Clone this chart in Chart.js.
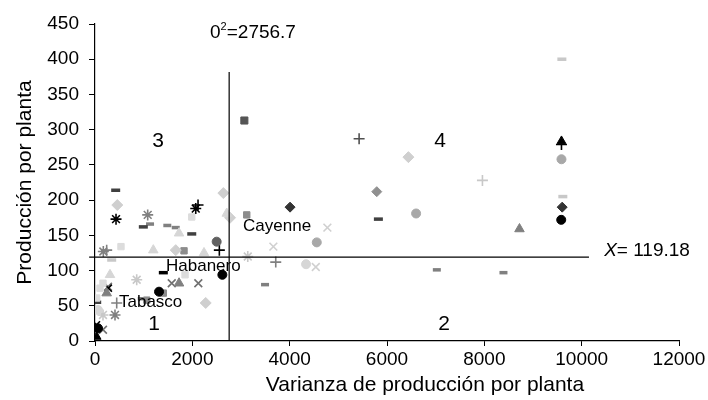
<!DOCTYPE html>
<html>
<head>
<meta charset="utf-8">
<script src="https://cdn.jsdelivr.net/npm/chart.js@4"></script>
<style>
  html, body { margin: 0; padding: 0; background: #fff; }
  #wrap { width: 708px; height: 400px; }
</style>
</head>
<body>
<div id="wrap"><canvas id="chart"></canvas></div>
<script>
// Variance (x) vs production per plant (y), grouped by marker
const blackCircles = [[1316, 70], [2617, 94], [62, 18], [9580, 172]];
const darkCircles = [[2500, 141]];
const grayCircles = [[4557, 140], [6598, 181], [9585, 258]];
const lightCircles = [[4337, 109], [62, 44]];

const blackTriangles = [[9585, 284], [35, 6]];
const grayTriangles = [[1727, 82], [8722, 159], [240, 68]];
const lightTriangles = [[1727, 153], [1198, 129], [2240, 125], [2707, 181], [308, 94]];

const darkDiamonds = [[4008, 190], [9600, 190]];
const grayDiamonds = [[5790, 212]];
const lightDiamonds = [[2637, 210], [2775, 175], [6440, 261], [458, 193], [1659, 129], [2275, 54]];

const darkSquares = [[3069, 313]];
const graySquares = [[3118, 179], [1829, 128], [1404, 68], [1063, 58]];
const lightSquares = [[1988, 176], [534, 134], [1850, 94], [164, 82], [103, 75], [35, 61]];

const blackDashes = [[1404, 97]];
const darkDashes = [[425, 214], [993, 162], [1988, 152], [5823, 173], [35, 55]];
const grayDashes = [[1131, 166], [1486, 164], [1659, 161], [7024, 101], [8393, 97], [3494, 80], [960, 60]];
const lightDashes = [[9593, 400], [9613, 205], [343, 115]];

const blackStars = [[432, 173], [2070, 188]];
const grayStars = [[1083, 179], [171, 127], [411, 37]];
const lightStars = [[857, 87], [3139, 120], [164, 37]];

const blackPlus = [[2117, 193], [2555, 129], [9585, 279]];
const darkPlus = [[5427, 287]];
const grayPlus = [[3714, 112], [446, 54], [240, 129]];
const lightPlus = [[7961, 228]];

const blackCrosses = [[30, 23], [274, 75]];
const grayCrosses = [[1577, 82], [2123, 82], [267, 77], [164, 16]];
const lightCrosses = [[4775, 161], [3665, 134], [4537, 105]];

// Reference lines: mean variance and mean production
const meanVariance = 2756.7;
const meanProduction = 119.18;

const xTicks = [0, 2000, 4000, 6000, 8000, 10000, 12000];
const yTicks = [0, 50, 100, 150, 200, 250, 300, 350, 400, 450];

const BLACK = '#000000', DARK = '#404040', GRAY = '#808080', LIGHT = '#c8c8c8';
const FONT = '"Liberation Sans", Arial, sans-serif';

function series(label, pairs, style, color, radius) {
    const thin = style === 'cross' || style === 'crossRot' || style === 'star';
    return {
        label: label,
        data: pairs.map(p => ({ x: p[0], y: p[1] })),
        pointStyle: style,
        pointRadius: radius,
        pointBackgroundColor: color,
        pointBorderColor: color,
        pointBorderWidth: style === 'line' ? 3.5 : (thin ? 1.6 : 1),
        showLine: false
    };
}

function refLine(pairs) {
    return {
        type: 'line',
        data: pairs.map(p => ({ x: p[0], y: p[1] })),
        borderColor: '#000',
        borderWidth: 1.2,
        pointRadius: 0,
        showLine: true,
        clip: false,
        order: -1
    };
}

const datasets = [
    series('blackCircles', blackCircles, 'circle', BLACK, 4.5),
    series('darkCircles', darkCircles, 'circle', '#606060', 4.5),
    series('grayCircles', grayCircles, 'circle', '#a8a8a8', 4.5),
    series('lightCircles', lightCircles, 'circle', '#d6d6d6', 4.5),
    series('blackTriangles', blackTriangles, 'triangle', BLACK, 5),
    series('grayTriangles', grayTriangles, 'triangle', GRAY, 5.5),
    series('lightTriangles', lightTriangles, 'triangle', '#d6d6d6', 5.5),
    series('darkDiamonds', darkDiamonds, 'rectRot', '#333333', 5),
    series('grayDiamonds', grayDiamonds, 'rectRot', '#909090', 5),
    series('lightDiamonds', lightDiamonds, 'rectRot', '#cfcfcf', 5.5),
    series('darkSquares', darkSquares, 'rect', '#555555', 5),
    series('graySquares', graySquares, 'rect', '#8c8c8c', 4.5),
    series('lightSquares', lightSquares, 'rect', '#dcdcdc', 4.5),
    series('blackDashes', blackDashes, 'line', BLACK, 4.5),
    series('darkDashes', darkDashes, 'line', DARK, 4.5),
    series('grayDashes', grayDashes, 'line', GRAY, 4),
    series('lightDashes', lightDashes, 'line', LIGHT, 4.5),
    series('blackStars', blackStars, 'star', BLACK, 5.5),
    series('grayStars', grayStars, 'star', GRAY, 5.5),
    series('lightStars', lightStars, 'star', LIGHT, 5.5),
    series('blackPlus', blackPlus, 'cross', BLACK, 5.5),
    series('darkPlus', darkPlus, 'cross', '#505050', 5.5),
    series('grayPlus', grayPlus, 'cross', GRAY, 5.5),
    series('lightPlus', lightPlus, 'cross', LIGHT, 5.5),
    series('blackCrosses', blackCrosses, 'crossRot', BLACK, 5),
    series('grayCrosses', grayCrosses, 'crossRot', '#707070', 5.5),
    series('lightCrosses', lightCrosses, 'crossRot', '#d0d0d0', 5.5),
    refLine([[meanVariance, 0], [meanVariance, 382]]),
    refLine([[-120, meanProduction], [10150, meanProduction]])
];

// Text drawn in data coordinates: quadrant numbers, cultivar names, means
const notes = [
    { text: '3', x: 1295, y: 284, size: 21 },
    { text: '4', x: 7091, y: 284, size: 21 },
    { text: '1', x: 1213, y: 24, size: 21 },
    { text: '2', x: 7174, y: 24, size: 21 },
    { text: 'Cayenne', x: 3042, y: 163, size: 17, left: true },
    { text: 'Habanero', x: 1459, y: 106, size: 17, left: true },
    { text: 'Tabasco', x: 493, y: 55, size: 17, left: true }
];

const notesPlugin = {
    id: 'notes',
    afterDatasetsDraw(chart) {
        const ctx = chart.ctx;
        const xs = chart.scales.x, ys = chart.scales.y;
        ctx.save();
        ctx.fillStyle = '#000';
        ctx.textBaseline = 'middle';
        notes.forEach(n => {
            ctx.font = n.size + 'px ' + FONT;
            ctx.textAlign = n.left ? 'left' : 'center';
            ctx.fillText(n.text, xs.getPixelForValue(n.x), ys.getPixelForValue(n.y));
        });

        // sigma squared label above the vertical line
        ctx.textAlign = 'left';
        let px = xs.getPixelForValue(2364), py = ys.getPixelForValue(438);
        ctx.font = '19px ' + FONT;
        ctx.fillText('0', px, py);
        px += ctx.measureText('0').width;
        ctx.font = '11px ' + FONT;
        ctx.fillText('2', px, py - 5);
        px += ctx.measureText('2').width;
        ctx.font = '19px ' + FONT;
        ctx.fillText('=' + meanVariance, px, py);

        // mean production label right of the horizontal line
        px = xs.getPixelForValue(10462);
        py = ys.getPixelForValue(meanProduction + 9);
        ctx.font = 'italic 19px ' + FONT;
        ctx.fillText('X', px, py);
        px += ctx.measureText('X').width;
        ctx.font = '19px ' + FONT;
        ctx.fillText('= ' + meanProduction, px, py);

        // x axis title, set a little right of the plot centre
        ctx.font = '21px ' + FONT;
        ctx.textAlign = 'center';
        ctx.fillText('Varianza de producción por planta', xs.getPixelForValue(6780), xs.bottom - 15);
        ctx.restore();
    }
};

const tickFont = { family: FONT, size: 19 };
const titleFont = { family: FONT, size: 21 };

new Chart(document.getElementById('chart').getContext('2d'), {
    type: 'scatter',
    data: { datasets: datasets },
    options: {
        responsive: true,
        maintainAspectRatio: false,
        animation: false,
        layout: { padding: { top: 24, right: 29, left: 0, bottom: 0 } },
        plugins: {
            legend: { display: false },
            tooltip: { enabled: false }
        },
        scales: {
            x: {
                type: 'linear',
                min: 0,
                max: 12000,
                afterBuildTicks: scale => { scale.ticks = xTicks.map(v => ({ value: v })); },
                afterFit: scale => { scale.height = 59; },
                border: { color: '#000', width: 1.2 },
                grid: { drawOnChartArea: false, drawTicks: true, tickLength: 5, color: '#000' },
                ticks: { color: '#000', font: tickFont, padding: 2, maxRotation: 0, callback: v => String(v) }
            },
            y: {
                type: 'linear',
                min: 0,
                max: 450,
                afterBuildTicks: scale => { scale.ticks = yTicks.map(v => ({ value: v })); },
                afterFit: scale => { scale.width = 95; },
                border: { color: '#000', width: 1.2 },
                grid: { drawOnChartArea: false, drawTicks: true, tickLength: 6, color: '#000' },
                ticks: { color: '#000', font: tickFont, padding: 10, callback: v => String(v) },
                title: {
                    display: true,
                    text: 'Producción por planta',
                    color: '#000',
                    font: titleFont,
                    padding: { top: 13, bottom: 4 }
                }
            }
        }
    },
    plugins: [notesPlugin]
});
</script>
</body>
</html>
